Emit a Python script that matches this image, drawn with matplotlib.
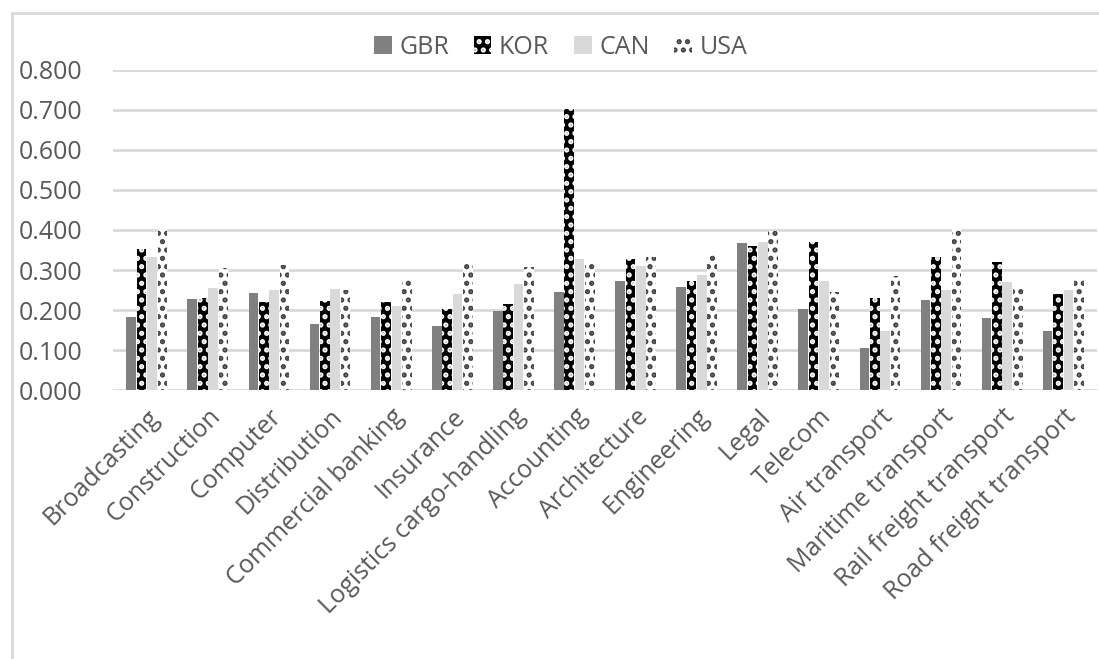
import numpy as np
import matplotlib.pyplot as plt
from matplotlib.patches import Rectangle

plt.rcParams['font.family'] = ['Open Sans', 'DejaVu Sans']
plt.rcParams['hatch.linewidth'] = 2.5

sectors = ['Broadcasting', 'Construction', 'Computer', 'Distribution', 'Commercial banking',
           'Insurance', 'Logistics cargo-handling', 'Accounting', 'Architecture', 'Engineering',
           'Legal', 'Telecom', 'Air transport', 'Maritime transport', 'Rail freight transport',
           'Road freight transport']
gbr = [0.182, 0.228, 0.243, 0.165, 0.182, 0.160, 0.198, 0.246, 0.273, 0.258, 0.367, 0.203, 0.105, 0.225, 0.180, 0.148]
kor = [0.352, 0.230, 0.220, 0.222, 0.220, 0.203, 0.216, 0.702, 0.327, 0.273, 0.360, 0.370, 0.230, 0.333, 0.320, 0.240]
can = [0.333, 0.255, 0.250, 0.253, 0.210, 0.240, 0.265, 0.327, 0.310, 0.288, 0.370, 0.273, 0.148, 0.250, 0.270, 0.250]
usa = [0.405, 0.305, 0.312, 0.250, 0.277, 0.320, 0.308, 0.320, 0.333, 0.337, 0.398, 0.246, 0.285, 0.405, 0.260, 0.275]

fig = plt.figure(figsize=(10.99, 6.59), dpi=100)
ax = fig.add_axes([0.103, 0.408, 0.895, 0.486])
fig.patches.append(Rectangle((0.011, -0.05), 1.1, 1.03, transform=fig.transFigure,
                             fill=False, edgecolor='#d9d9d9', linewidth=2))

x = np.arange(len(sectors))
w = 0.17
ax.bar(x - 1.5 * w, gbr, w * 0.93, color='#808080', label='GBR', zorder=3)
ax.bar(x - 0.5 * w, kor, w * 0.93, color='black', edgecolor='white', hatch='..',
       linewidth=0, label='KOR', zorder=3)
ax.bar(x + 0.5 * w, can, w * 0.93, color='#d9d9d9', label='CAN', zorder=3)
ax.bar(x + 1.5 * w, usa, w * 0.93, color='white', edgecolor='#404040', hatch='..',
       linewidth=0, label='USA', zorder=3)

ax.set_ylim(0, 0.8)
ax.set_xlim(-0.55, len(sectors) - 0.45)
ax.set_yticks(np.arange(0, 0.81, 0.1))
ax.set_yticklabels(['%.3f' % v for v in np.arange(0, 0.81, 0.1)])
ax.yaxis.grid(True, color='#d9d9d9', linewidth=2, zorder=0)
ax.set_axisbelow(True)
for s in ax.spines.values():
    s.set_visible(False)
ax.tick_params(axis='both', length=0, labelsize=18, colors='#595959')
ax.tick_params(axis='y', pad=22)
ax.tick_params(axis='x', pad=10)
ax.set_xticks(x)
ax.set_xticklabels(sectors, rotation=45, ha='right', rotation_mode='anchor')

ax.legend(loc='center', bbox_to_anchor=(0.455, 1.07), ncol=4, frameon=False,
          fontsize=18, labelcolor='#595959', handlelength=0.7, handleheight=0.7,
          handletextpad=0.3, columnspacing=1.0)

fig.savefig('out.png', dpi=100)
